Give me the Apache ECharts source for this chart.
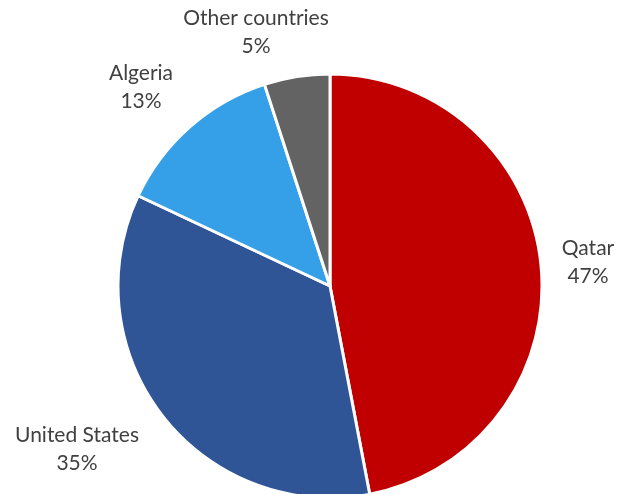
<!DOCTYPE html>
<html>
<head>
<meta charset="utf-8">
<script src="https://cdn.jsdelivr.net/npm/echarts@6/dist/echarts.min.js"></script>
<style>
html, body { margin: 0; padding: 0; background: #fff; }
#main { width: 617px; height: 494px; }
</style>
</head>
<body>
<div id="main"></div>
<script>
// shares, clockwise from 12 o'clock
var countries = ['Qatar', 'United States', 'Algeria', 'Other countries'];
var shares = [47, 35, 13, 5];
var colors = ['#C00000', '#2F5597', '#35A0E8', '#636363'];

// where the two-line labels sit (centre of the text block)
var labelPos = [[588, 262], [77, 449], [141, 87], [256, 32]];

var myChart = echarts.init(document.getElementById('main'));

var data = countries.map(function (name, i) {
    return { name: name, value: shares[i], itemStyle: { color: colors[i] } };
});

var option = {
    backgroundColor: '#fff',
    animation: false,
    series: [{
        type: 'pie',
        center: [330, 286],
        radius: 212,
        startAngle: 90,
        clockwise: true,
        data: data,
        itemStyle: {
            borderColor: '#fff',
            borderWidth: 3
        },
        label: {
            show: true,
            position: 'outside',
            formatter: '{b}\n{d}%',
            fontFamily: 'Lato',
            fontSize: 21,
            lineHeight: 28,
            color: '#404040',
            overflow: 'none'
        },
        labelLine: { show: false },
        labelLayout: function (params) {
            var p = labelPos[params.dataIndex];
            return {
                x: p[0],
                y: p[1],
                align: 'center',
                verticalAlign: 'middle',
                hideOverlap: false
            };
        }
    }]
};

myChart.setOption(option);
</script>
</body>
</html>
